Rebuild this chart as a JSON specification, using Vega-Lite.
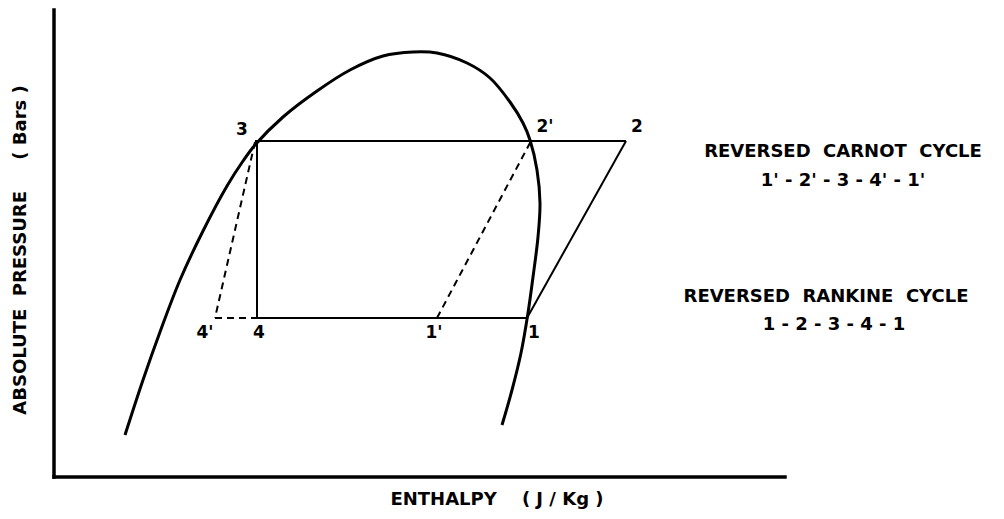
{
  "$schema": "https://vega.github.io/schema/vega-lite/v6.json",
  "width": 1004,
  "height": 519,
  "padding": 0,
  "autosize": {"type": "fit", "contains": "padding"},
  "background": "white",
  "config": {"view": {"stroke": null}},
  "datasets": {
    "dome": [
      {"o": 1, "h": 125, "p": 84},
      {"o": 2, "h": 143, "p": 139},
      {"o": 3, "h": 160, "p": 187},
      {"o": 4, "h": 180, "p": 239},
      {"o": 5, "h": 203, "p": 288},
      {"o": 6, "h": 227, "p": 333},
      {"o": 7, "h": 243, "p": 358},
      {"o": 8, "h": 255, "p": 374},
      {"o": 9, "h": 283, "p": 402},
      {"o": 10, "h": 317, "p": 428},
      {"o": 11, "h": 350, "p": 449},
      {"o": 12, "h": 383, "p": 463},
      {"o": 13, "h": 413, "p": 467},
      {"o": 14, "h": 437, "p": 466},
      {"o": 15, "h": 467, "p": 456},
      {"o": 16, "h": 490, "p": 441},
      {"o": 17, "h": 510, "p": 417},
      {"o": 18, "h": 523, "p": 396},
      {"o": 19, "h": 530, "p": 379},
      {"o": 20, "h": 537, "p": 349},
      {"o": 21, "h": 540, "p": 316},
      {"o": 22, "h": 538, "p": 282},
      {"o": 23, "h": 533, "p": 242},
      {"o": 24, "h": 528, "p": 206},
      {"o": 25, "h": 521, "p": 166},
      {"o": 26, "h": 512, "p": 129},
      {"o": 27, "h": 502, "p": 94}
    ],
    "solid": [
      {"seg": "3-2", "o": 1, "h": 255, "p": 378},
      {"seg": "3-2", "o": 2, "h": 626, "p": 378},
      {"seg": "2-1", "o": 1, "h": 626, "p": 378},
      {"seg": "2-1", "o": 2, "h": 527, "p": 201},
      {"seg": "3-4", "o": 1, "h": 257, "p": 378},
      {"seg": "3-4", "o": 2, "h": 257, "p": 201},
      {"seg": "4-1", "o": 1, "h": 257, "p": 201},
      {"seg": "4-1", "o": 2, "h": 527, "p": 201}
    ],
    "dashed": [
      {"seg": "3-4'", "o": 1, "h": 255, "p": 377},
      {"seg": "3-4'", "o": 2, "h": 215, "p": 201},
      {"seg": "4'-4", "o": 1, "h": 215, "p": 201},
      {"seg": "4'-4", "o": 2, "h": 257, "p": 201},
      {"seg": "1'-2'", "o": 1, "h": 437, "p": 201},
      {"seg": "1'-2'", "o": 2, "h": 531, "p": 378}
    ],
    "axes": [
      {"seg": "pressure", "o": 1, "h": 54, "p": 509},
      {"seg": "pressure", "o": 2, "h": 54, "p": 42},
      {"seg": "enthalpy", "o": 1, "h": 54, "p": 42},
      {"seg": "enthalpy", "o": 2, "h": 785, "p": 42}
    ],
    "points": [
      {"label": "3", "h": 242, "p": 389},
      {"label": "2'", "h": 545, "p": 392},
      {"label": "2", "h": 637, "p": 392},
      {"label": "4'", "h": 205, "p": 186},
      {"label": "4", "h": 259, "p": 186},
      {"label": "1'", "h": 434, "p": 186},
      {"label": "1", "h": 534, "p": 186}
    ],
    "notes": [
      {"text": "REVERSED\u00a0\u00a0CARNOT\u00a0\u00a0CYCLE", "h": 843, "p": 367},
      {"text": "1' - 2' - 3 - 4' - 1'", "h": 843, "p": 338},
      {"text": "REVERSED\u00a0\u00a0RANKINE\u00a0\u00a0CYCLE", "h": 826, "p": 222},
      {"text": "1 - 2 - 3 - 4 - 1", "h": 834, "p": 194},
      {"text": "ENTHALPY\u00a0\u00a0\u00a0\u00a0(\u00a0J\u00a0/\u00a0Kg\u00a0)", "h": 497, "p": 19}
    ],
    "ytitle": [
      {"text": "ABSOLUTE\u00a0\u00a0PRESSURE\u00a0\u00a0\u00a0\u00a0\u00a0(\u00a0Bars\u00a0)", "h": 21, "p": 269}
    ]
  },
  "encoding": {
    "x": {"field": "h", "type": "quantitative", "scale": {"domain": [0, 1004], "nice": false, "zero": false}, "axis": null},
    "y": {"field": "p", "type": "quantitative", "scale": {"domain": [0, 519], "nice": false, "zero": false}, "axis": null}
  },
  "layer": [
    {
      "data": {"name": "axes"},
      "mark": {"type": "line", "color": "black", "strokeWidth": 3.5, "strokeCap": "square"},
      "encoding": {"detail": {"field": "seg"}, "order": {"field": "o", "type": "quantitative"}}
    },
    {
      "data": {"name": "dome"},
      "mark": {"type": "line", "color": "black", "strokeWidth": 3, "interpolate": "catmull-rom"},
      "encoding": {"order": {"field": "o", "type": "quantitative"}}
    },
    {
      "data": {"name": "solid"},
      "mark": {"type": "line", "color": "black", "strokeWidth": 2},
      "encoding": {"detail": {"field": "seg"}, "order": {"field": "o", "type": "quantitative"}}
    },
    {
      "data": {"name": "dashed"},
      "mark": {"type": "line", "color": "black", "strokeWidth": 2, "strokeDash": [7, 5]},
      "encoding": {"detail": {"field": "seg"}, "order": {"field": "o", "type": "quantitative"}}
    },
    {
      "data": {"name": "points"},
      "mark": {"type": "text", "font": "DejaVu Sans", "fontWeight": "bold", "fontSize": 17, "color": "black", "align": "center", "baseline": "middle"},
      "encoding": {"text": {"field": "label"}}
    },
    {
      "data": {"name": "notes"},
      "mark": {"type": "text", "font": "DejaVu Sans", "fontWeight": "bold", "fontSize": 18, "color": "black", "align": "center", "baseline": "middle"},
      "encoding": {"text": {"field": "text"}}
    },
    {
      "data": {"name": "ytitle"},
      "mark": {"type": "text", "font": "DejaVu Sans", "fontWeight": "bold", "fontSize": 18, "color": "black", "align": "center", "baseline": "middle", "angle": 270},
      "encoding": {"text": {"field": "text"}}
    }
  ]
}
